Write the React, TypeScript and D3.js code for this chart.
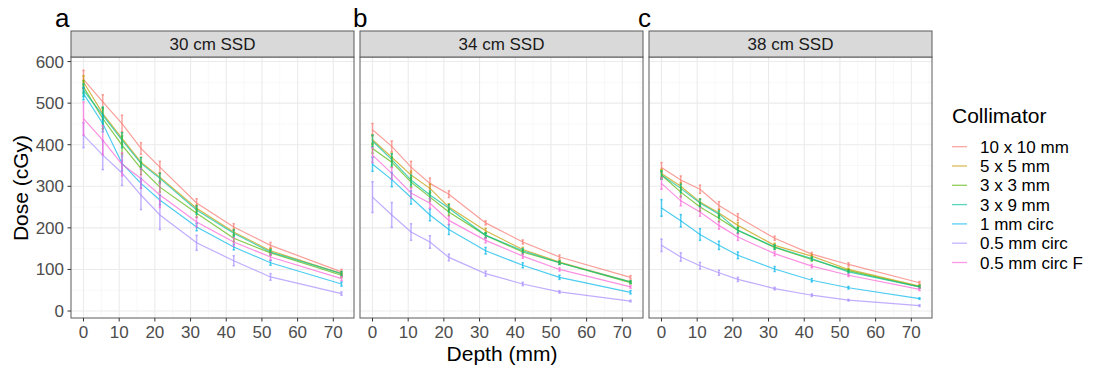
import React from "react";
import * as d3 from "d3";

const depths = [0, 5.4, 10.8, 16.1, 21.4, 31.7, 42.1, 52.4, 72.3];
const collimators = ["10 x 10 mm", "5 x 5 mm", "3 x 3 mm", "3 x 9 mm", "1 mm circ", "0.5 mm circ", "0.5 mm circ F"];
const colors = ["#F8766D", "#C49A00", "#53B400", "#00C094", "#00B6EB", "#A58AFF", "#FB61D7"];
const panelTitles = ["30 cm SSD", "34 cm SSD", "38 cm SSD"];
const panelLetters = ["a", "b", "c"];
const xTicks = [0, 10, 20, 30, 40, 50, 60, 70];
const xMinor = [5, 15, 25, 35, 45, 55, 65, 75];
const yTicks = [0, 100, 200, 300, 400, 500, 600];
const yMinor = [50, 150, 250, 350, 450, 550];

// dose per collimator, 30 cm SSD
const dose30 = [
  [557, 503, 451, 391, 346, 260, 202, 158, 94],
  [551, 475, 415, 358, 322, 247, 190, 145, 90],
  [539, 463, 399, 343, 298, 235, 175, 140, 86],
  [531, 471, 411, 355, 319, 243, 187, 142, 90],
  [523, 451, 355, 307, 267, 202, 154, 116, 65],
  [423, 375, 332, 279, 231, 164, 121, 82, 42],
  [463, 411, 353, 319, 279, 214, 166, 130, 78],
];
const err30 = [
  [22, 17, 20, 14, 14, 10, 8, 7, 6],
  [15, 14, 14, 12, 10, 8, 7, 6, 5],
  [15, 25, 22, 15, 12, 10, 8, 6, 5],
  [15, 20, 18, 14, 12, 10, 8, 6, 5],
  [15, 20, 18, 12, 12, 9, 7, 6, 5],
  [30, 35, 30, 35, 35, 18, 12, 8, 4],
  [40, 35, 28, 24, 30, 12, 10, 8, 5],
];
// 34 cm SSD
const dose34 = [
  [436, 396, 346, 307, 281, 212, 166, 130, 81],
  [412, 370, 327, 295, 250, 193, 148, 118, 70],
  [391, 358, 310, 274, 238, 182, 142, 116, 68],
  [409, 364, 315, 279, 247, 182, 145, 116, 70],
  [353, 316, 273, 231, 196, 145, 110, 81, 45],
  [274, 231, 190, 166, 129, 90, 65, 46, 24],
  [375, 331, 284, 259, 218, 170, 132, 100, 58],
];
const err34 = [
  [15, 13, 14, 13, 8, 5, 5, 5, 4],
  [12, 10, 10, 10, 8, 6, 5, 4, 3],
  [12, 12, 12, 10, 8, 6, 5, 4, 3],
  [14, 14, 12, 10, 9, 6, 5, 4, 3],
  [17, 17, 16, 14, 12, 8, 6, 5, 4],
  [37, 30, 20, 15, 8, 6, 4, 3, 2],
  [18, 14, 12, 12, 10, 6, 5, 4, 3],
];
// 38 cm SSD
const dose38 = [
  [345, 315, 293, 254, 226, 175, 137, 112, 68],
  [331, 300, 262, 236, 206, 158, 132, 100, 60],
  [327, 286, 250, 223, 194, 153, 124, 97, 58],
  [327, 295, 260, 233, 194, 154, 126, 94, 58],
  [248, 217, 184, 158, 134, 101, 74, 56, 30],
  [158, 130, 109, 92, 76, 54, 38, 26, 13],
  [307, 265, 238, 206, 178, 138, 108, 86, 52],
];
const err38 = [
  [12, 10, 10, 9, 8, 5, 4, 4, 3],
  [10, 9, 8, 8, 7, 5, 4, 3, 3],
  [10, 12, 10, 8, 7, 5, 4, 3, 3],
  [10, 10, 9, 8, 7, 5, 4, 3, 3],
  [20, 15, 14, 10, 8, 6, 4, 3, 2],
  [15, 10, 8, 6, 5, 3, 3, 2, 2],
  [14, 12, 10, 9, 8, 5, 4, 3, 3],
];

const panelDose = [dose30, dose34, dose38];
const panelErr = [err30, err34, err38];

const W = 1097;
const H = 367;
const FONT = "'Liberation Sans', Arial, Helvetica, sans-serif";
const panelLefts = [71, 360, 649];
const panelW = 283;
const panelTop = 57;
const panelBottom = 318;
const stripTop = 31;
const letterX = [55, 353, 638];

export default function App() {
  const y = d3.scaleLinear().domain([-16.8, 611]).range([panelBottom, panelTop]);
  const line = (xs: d3.ScaleLinear<number, number>) =>
    d3
      .line<number>()
      .x((_, i) => xs(depths[i]))
      .y((v) => y(v));

  return (
    <svg width={W} height={H} style={{ position: "absolute", left: 0, top: 0 }} fontFamily={FONT}>
      <rect x={0} y={0} width={W} height={H} fill="#fff" />
      {panelLefts.map((left, p) => {
        const x = d3.scaleLinear().domain([-3.5, 75.8]).range([left, left + panelW]);
        const dose = panelDose[p];
        const err = panelErr[p];
        const gen = line(x);
        return (
          <g key={p}>
            <rect x={left} y={panelTop} width={panelW} height={panelBottom - panelTop} fill="#fff" />
            {yMinor.map((t) => (
              <line key={"ym" + t} x1={left} x2={left + panelW} y1={y(t)} y2={y(t)} stroke="#F4F4F4" strokeWidth={0.6} />
            ))}
            {xMinor.map((t) => (
              <line key={"xm" + t} x1={x(t)} x2={x(t)} y1={panelTop} y2={panelBottom} stroke="#F4F4F4" strokeWidth={0.6} />
            ))}
            {yTicks.map((t) => (
              <line key={"yg" + t} x1={left} x2={left + panelW} y1={y(t)} y2={y(t)} stroke="#EBEBEB" strokeWidth={1.1} />
            ))}
            {xTicks.map((t) => (
              <line key={"xg" + t} x1={x(t)} x2={x(t)} y1={panelTop} y2={panelBottom} stroke="#EBEBEB" strokeWidth={1.1} />
            ))}
            {dose.map((series, s) => (
              <path key={"l" + s} d={gen(series) || ""} fill="none" stroke={colors[s]} strokeOpacity={0.7} strokeWidth={1.2} />
            ))}
            {dose.map((series, s) => (
              <g key={"e" + s} stroke={colors[s]} strokeOpacity={0.65} strokeWidth={1.5}>
                {series.map((v, i) => {
                  const cx = x(depths[i]);
                  const y1 = y(v + err[s][i]);
                  const y2 = y(v - err[s][i]);
                  return (
                    <g key={i}>
                      <line x1={cx} x2={cx} y1={y1} y2={y2} />
                      <line x1={cx - 1.2} x2={cx + 1.2} y1={y1} y2={y1} />
                      <line x1={cx - 1.2} x2={cx + 1.2} y1={y2} y2={y2} />
                    </g>
                  );
                })}
              </g>
            ))}
            <rect x={left} y={panelTop} width={panelW} height={panelBottom - panelTop} fill="none" stroke="#5a5a5a" strokeWidth={1} />
            {/* strip */}
            <rect x={left} y={stripTop} width={panelW} height={panelTop - stripTop} fill="#D9D9D9" stroke="#5a5a5a" strokeWidth={1} />
            <text x={left + panelW / 2} y={(stripTop + panelTop) / 2 + 6} textAnchor="middle" fontSize={17} fill="#1A1A1A">
              {panelTitles[p]}
            </text>
            {/* x axis */}
            {xTicks.map((t) => (
              <g key={"xt" + t}>
                <line x1={x(t)} x2={x(t)} y1={panelBottom} y2={panelBottom + 3.5} stroke="#333" strokeWidth={1} />
                <text x={x(t)} y={338} textAnchor="middle" fontSize={17} fill="#4D4D4D">
                  {t}
                </text>
              </g>
            ))}
            <text x={letterX[p]} y={27} fontSize={26} fill="#000">
              {panelLetters[p]}
            </text>
          </g>
        );
      })}
      {/* y axis for first panel */}
      {yTicks.map((t) => (
        <g key={"yt" + t}>
          <line x1={panelLefts[0] - 3.5} x2={panelLefts[0]} y1={y(t)} y2={y(t)} stroke="#333" strokeWidth={1} />
          <text x={panelLefts[0] - 7} y={y(t) + 6} textAnchor="end" fontSize={17} fill="#4D4D4D">
            {t}
          </text>
        </g>
      ))}
      <text x={502} y={361} textAnchor="middle" fontSize={21} fill="#000">
        Depth (mm)
      </text>
      <text transform={`translate(28,188) rotate(-90)`} textAnchor="middle" fontSize={21} fill="#000">
        Dose (cGy)
      </text>
      {/* legend */}
      <text x={952} y={123} fontSize={21} fill="#000">
        Collimator
      </text>
      {collimators.map((c, i) => {
        const cy = 146.7 + i * 19.3;
        return (
          <g key={c}>
            <line x1={952} x2={967} y1={cy} y2={cy} stroke={colors[i]} strokeOpacity={0.65} strokeWidth={1.3} />
            <text x={980} y={cy + 6} fontSize={17} fill="#000">
              {c}
            </text>
          </g>
        );
      })}
    </svg>
  );
}
